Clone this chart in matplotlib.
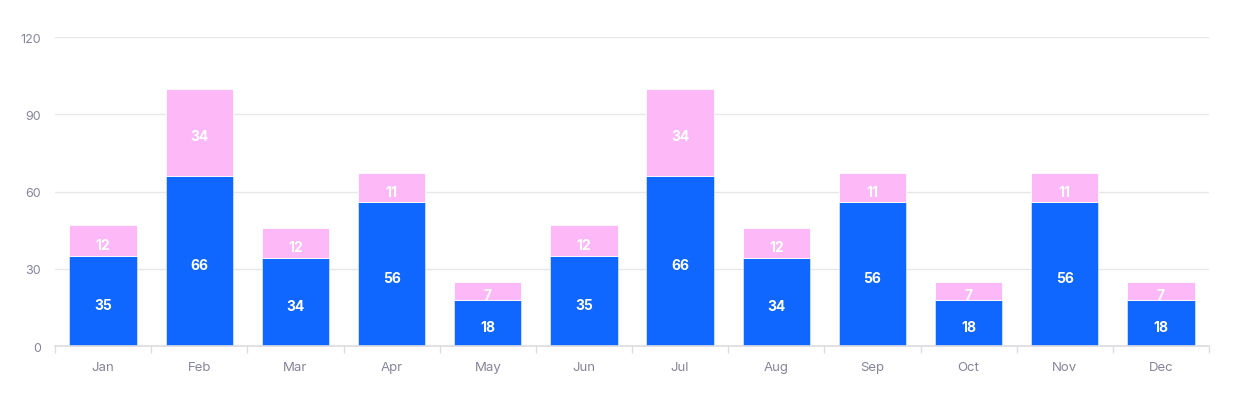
import matplotlib.pyplot as plt
import matplotlib.transforms as mtransforms
import numpy as np

months = ['Jan', 'Feb', 'Mar', 'Apr', 'May', 'Jun', 'Jul', 'Aug', 'Sep', 'Oct', 'Nov', 'Dec']
base = [35, 66, 34, 56, 18, 35, 66, 34, 56, 18, 56, 18]
extra = [12, 34, 12, 11, 7, 12, 34, 12, 11, 7, 11, 7]

plt.rcParams['font.family'] = ['Inter', 'DejaVu Sans']

fig = plt.figure(figsize=(12.33, 4.14), dpi=100)
ax = fig.add_axes([0.0446, 0.1618, 0.936, 0.7464])

x = np.arange(len(months))
w = 0.7
b1 = ax.bar(x, base, width=w, color='#0F67FF', edgecolor='#cfe0ff', linewidth=0.6, zorder=3)
b2 = ax.bar(x, extra, width=w, bottom=base, color='#FDB9F7', edgecolor='#ffffff', linewidth=0.6, zorder=3)

# nudge labels a few pixels down like the original
shift = mtransforms.offset_copy(ax.transData, fig=fig, x=0, y=-3, units='points')
for i in range(len(months)):
    ax.text(x[i], base[i] / 2, str(base[i]), ha='center', va='center', transform=shift,
            color='white', fontsize=10, fontweight='bold', zorder=4)
    ax.text(x[i], base[i] + extra[i] / 2, str(extra[i]), ha='center', va='center', transform=shift,
            color='white', fontsize=10, fontweight='bold', zorder=4)

ax.set_xlim(-0.5, len(months) - 0.5)
ax.set_ylim(0, 120)
ax.set_yticks([0, 30, 60, 90, 120])
ax.grid(axis='y', color='#e6e6eb', linewidth=1, zorder=0)

ax.set_xticks(x)
ax.set_xticklabels(months)
ax.set_xticks(np.arange(-0.5, len(months)), minor=True)
ax.tick_params(axis='x', which='major', length=0, pad=11, labelsize=9.5, labelcolor='#85859a')
ax.tick_params(axis='x', which='minor', length=5, color='#dcdce0', width=1)
ax.tick_params(axis='y', length=0, pad=10, labelsize=9, labelcolor='#85859a')

for s in ['top', 'right', 'left']:
    ax.spines[s].set_visible(False)
ax.spines['bottom'].set_color('#dcdce0')
ax.spines['bottom'].set_linewidth(1.2)
ax.spines['bottom'].set_zorder(5)

fig.savefig('out.png', dpi=100)
